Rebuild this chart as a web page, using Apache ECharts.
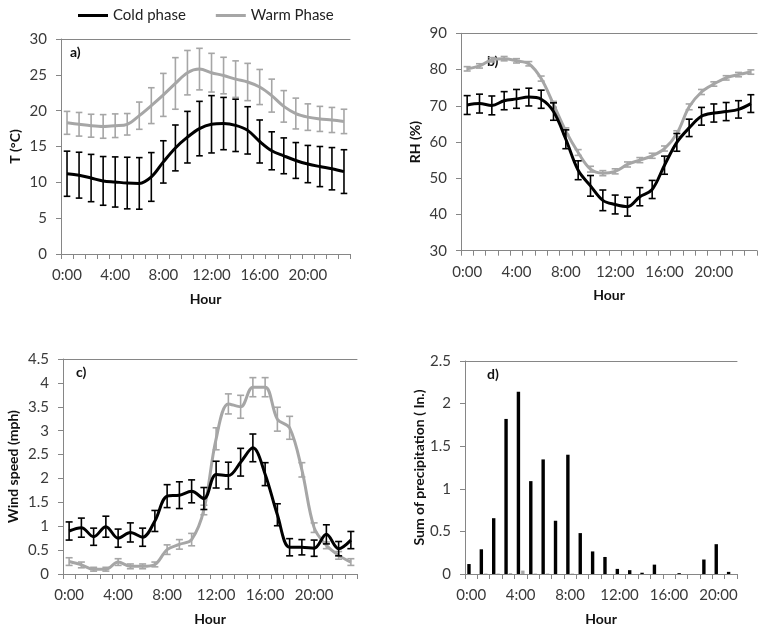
<!DOCTYPE html>
<html><head><meta charset="utf-8">
<script src="https://cdn.jsdelivr.net/npm/echarts@6/dist/echarts.min.js"></script>
<style>html,body{margin:0;padding:0;background:#fff}#c{width:764px;height:631px}</style>
</head><body><div id="c"></div>
<script>
const hours = ['0:00','1:00','2:00','3:00','4:00','5:00','6:00','7:00','8:00','9:00','10:00','11:00','12:00','13:00','14:00','15:00','16:00','17:00','18:00','19:00','20:00','21:00','22:00','23:00'];
const precipHours = ['0:00','1:00','2:00','3:00','4:00','5:00','6:00','7:00','8:00','9:00','10:00','11:00','12:00','13:00','14:00','15:00','16:00','17:00','18:00','19:00','20:00','21:00'];

const tempCold = [11.2,11.0,10.6,10.2,10.05,9.9,9.85,10.75,12.85,14.8,16.3,17.5,18.1,18.2,17.95,17.25,15.7,14.4,13.7,13.05,12.55,12.2,11.9,11.5];
const tempColdErr = [3.15,3.2,3.3,3.4,3.5,3.6,3.6,3.4,2.95,3.2,3.6,3.8,4.0,3.65,3.65,3.3,3.0,2.65,2.5,2.5,2.6,2.8,2.95,3.05];
const tempWarm = [18.3,18.1,17.9,17.8,17.9,18.1,19.3,20.7,22.2,23.8,25.3,25.8,25.3,24.9,24.4,24.0,23.3,22.1,20.6,19.6,19.1,18.85,18.7,18.5];
const tempWarmErr = [1.6,1.65,1.6,1.65,1.65,1.5,1.9,2.5,3.0,3.6,3.1,2.9,2.7,2.55,2.55,2.6,2.45,2.3,2.2,2.15,1.85,1.75,1.75,1.7];

const rhCold = [70.2,70.6,70.1,71.4,71.9,72.4,71.8,68.4,60.75,52.2,47.9,43.9,42.75,42.15,44.9,46.9,53.6,59.9,63.9,67.1,68.0,68.4,69.0,70.6];
const rhColdErr = [2.6,2.6,2.6,2.5,2.6,2.45,2.5,2.4,2.6,2.6,2.85,2.85,2.6,2.6,2.5,2.5,2.5,2.45,2.4,2.45,2.5,2.5,2.4,2.45];
const rhWarm = [80.2,81.0,82.7,83.0,82.4,81.6,77.5,70.4,63.0,57.1,52.5,51.4,51.9,53.8,55.0,56.2,58.2,62.3,69.7,73.8,76.0,77.7,78.6,79.3];
const rhWarmErr = [0.6,0.6,0.6,0.6,0.6,0.6,0.7,0.8,0.9,0.8,0.8,0.7,0.7,0.7,0.7,0.7,0.7,0.8,0.8,0.7,0.6,0.6,0.6,0.6];

const windCold = [0.9,0.97,0.78,0.99,0.75,0.87,0.77,1.11,1.63,1.65,1.73,1.58,2.08,2.06,2.34,2.64,2.09,1.24,0.56,0.56,0.54,0.83,0.53,0.71];
const windColdErr = [0.19,0.2,0.18,0.22,0.19,0.2,0.19,0.22,0.24,0.28,0.24,0.23,0.28,0.28,0.29,0.29,0.24,0.23,0.18,0.16,0.17,0.2,0.15,0.18];
const windWarm = [0.26,0.19,0.1,0.1,0.25,0.16,0.16,0.2,0.51,0.62,0.72,1.34,2.83,3.56,3.5,3.91,3.91,3.24,3.06,2.18,0.97,0.6,0.39,0.25];
const windWarmErr = [0.08,0.06,0.04,0.04,0.07,0.05,0.05,0.05,0.1,0.1,0.13,0.1,0.23,0.21,0.24,0.2,0.2,0.25,0.24,0.15,0.1,0.07,0.08,0.07];

const precipCold = [0.117,0.29,0.655,1.82,2.14,1.09,1.345,0.625,1.40,0.48,0.265,0.2,0.06,0.045,0.015,0.11,0,0.01,0,0.17,0.35,0.025];
const precipWarm = [0,0.005,0.005,0.01,0.04,0.005,0.005,0,0.005,0,0,0,0,0,0,0,0,0,0,0,0,0];

const yTicksT = {min:0,max:30,interval:5};
const yTicksRH = {min:30,max:90,interval:10};
const yTicksW = {min:0,max:4.5,interval:0.5};
const yTicksP = {min:0,max:2.5,interval:0.5};

const FONT = 'Lato';
const AXC = '#868686';
const TXT = '#3a3a3a';
const BLACK = '#000000';
const GRAY = '#a6a6a6';

const grids = [
  {left:61, top:39, width:289, height:215},
  {left:461, top:33.3, width:296, height:217.4},
  {left:63, top:359, width:294, height:215},
  {left:465, top:361, width:272, height:213}
];
const names = ['T (°C)','RH (%)','Wind speed (mph)','Sum of precipitation ( In.)'];
const nameGaps = [39, 39, 43, 36];
const yCfg = [yTicksT, yTicksRH, yTicksW, yTicksP];
const cats = [hours, hours, hours, precipHours];

const xAxes = [];
const yAxes = [];
for (let i = 0; i < 4; i++) {
  xAxes.push({
    type:'category', gridIndex:i, data:cats[i], boundaryGap:true,
    axisLine:{show:true, lineStyle:{color:AXC, width:1}},
    axisTick:{show:true, interval:0, length:5, lineStyle:{color:AXC}},
    axisLabel:{interval:3, margin:14, color:TXT, fontSize:15, fontFamily:FONT},
    name:'Hour', nameLocation:'middle', nameGap:38,
    nameTextStyle:{fontWeight:'bold', fontSize:14, color:'#111', fontFamily:FONT},
    splitLine:{show:false}
  });
}
for (let i = 0; i < 4; i++) {
  xAxes.push({
    type:'category', gridIndex:i, data:cats[i], position:'top',
    axisLine:{show:true, lineStyle:{color:AXC, width:1}},
    axisTick:{show:false}, axisLabel:{show:false}, splitLine:{show:false}
  });
}
for (let i = 0; i < 4; i++) {
  yAxes.push({
    type:'value', gridIndex:i, min:yCfg[i].min, max:yCfg[i].max, interval:yCfg[i].interval,
    axisLine:{show:true, lineStyle:{color:AXC, width:1}},
    axisTick:{show:true, length:5, lineStyle:{color:AXC}},
    axisLabel:{margin:14, color:TXT, fontSize:15, fontFamily:FONT},
    splitLine:{show:false},
    name:names[i], nameLocation:'middle', nameGap:nameGaps[i], nameRotate:90,
    nameTextStyle:{fontWeight:'bold', fontSize:14, color:'#111', fontFamily:FONT}
  });
}

function errRender(color, hw, lw) {
  return function (params, api) {
    const x = api.value(0);
    const lo = api.value(1), hi = api.value(2);
    const p1 = api.coord([x, hi]);
    const p2 = api.coord([x, lo]);
    const st = {stroke:color, lineWidth:lw};
    return {type:'group', children:[
      {type:'line', shape:{x1:p1[0], y1:p1[1], x2:p2[0], y2:p2[1]}, style:st},
      {type:'line', shape:{x1:p1[0]-hw, y1:p1[1], x2:p1[0]+hw, y2:p1[1]}, style:st},
      {type:'line', shape:{x1:p2[0]-hw, y1:p2[1], x2:p2[0]+hw, y2:p2[1]}, style:st}
    ]};
  };
}
function errData(mean, err) {
  return mean.map((m, i) => [i, m - err[i], m + err[i]]);
}

const series = [];
function addPanel(idx, cold, coldErr, warm, warmErr, hw) {
  series.push({type:'custom', xAxisIndex:idx, yAxisIndex:idx, renderItem:errRender(GRAY, hw, 1.6), data:errData(warm, warmErr), z:2, silent:true});
  series.push({type:'line', name:'Warm Phase', xAxisIndex:idx, yAxisIndex:idx, data:warm, smooth:0.35, showSymbol:false, symbol:'none', lineStyle:{color:GRAY, width:3}, itemStyle:{color:GRAY}, z:3});
  series.push({type:'custom', xAxisIndex:idx, yAxisIndex:idx, renderItem:errRender(BLACK, hw, 1.6), data:errData(cold, coldErr), z:4, silent:true});
  series.push({type:'line', name:'Cold phase', xAxisIndex:idx, yAxisIndex:idx, data:cold, smooth:0.35, showSymbol:false, symbol:'none', lineStyle:{color:BLACK, width:3}, itemStyle:{color:BLACK}, z:5});
}
addPanel(0, tempCold, tempColdErr, tempWarm, tempWarmErr, 3.3);
addPanel(1, rhCold, rhColdErr, rhWarm, rhWarmErr, 3.5);
addPanel(2, windCold, windColdErr, windWarm, windWarmErr, 3.5);
series.push({type:'bar', name:'Cold phase', xAxisIndex:3, yAxisIndex:3, data:precipCold, barWidth:3.4, barGap:'30%', itemStyle:{color:BLACK}});
series.push({type:'bar', name:'Warm Phase', xAxisIndex:3, yAxisIndex:3, data:precipWarm, barWidth:3.4, barGap:'30%', itemStyle:{color:GRAY}});

const panelLabel = (text, x, y) => ({type:'text', left:x, top:y, style:{text:text, font:'bold 14px Lato', fill:'#111'}});

const option = {
  animation:false,
  backgroundColor:'#ffffff',
  textStyle:{fontFamily:FONT},
  legend:{
    data:['Cold phase','Warm Phase'], left:73, top:3, itemWidth:30, itemHeight:3, icon:'rect', itemGap:30,
    textStyle:{fontSize:15, color:'#222', fontFamily:FONT}
  },
  grid:grids,
  xAxis:xAxes,
  yAxis:yAxes,
  series:series,
  graphic:[
    panelLabel('a)', 70, 45),
    panelLabel('b)', 487, 54),
    panelLabel('c)', 76, 365),
    panelLabel('d)', 487, 367)
  ]
};
const chart = echarts.init(document.getElementById('c'), null, {renderer:'canvas'});
chart.setOption(option);
</script></body></html>
